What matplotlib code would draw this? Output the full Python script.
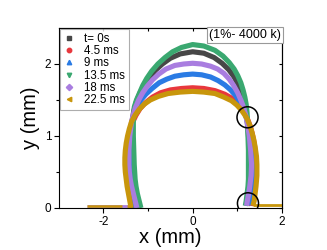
import matplotlib
matplotlib.use('Agg')
import matplotlib.pyplot as plt
from matplotlib.lines import Line2D

plt.rcParams['font.family'] = ['Liberation Sans', 'DejaVu Sans']
plt.rcParams['axes.unicode_minus'] = False

# contour points (x, y in mm)
labels = ['t= 0s', '4.5 ms', '9 ms', '13.5 ms', '18 ms', '22.5 ms']
colors = ['#474747', '#e8383d', '#2a7be4', '#3aa870', '#a97de0', '#c8960c']
markers = ['s', 'o', '^', 'v', 'D', '<']

x_t0 = [-1.20, -1.24, -1.27, -1.30, -1.32, -1.34, -1.35, -1.36, -1.37, -1.36, -1.32, -1.26, -1.18,
        -1.08, -0.97, -0.84, -0.68, -0.50, -0.28, 0.0, 0.25, 0.48, 0.66, 0.81, 0.93, 1.02, 1.09,
        1.15, 1.19, 1.22, 1.25, 1.28, 1.29, 1.28, 1.26, 1.22]
y_t0 = [0.0, 0.1, 0.2, 0.3, 0.4, 0.5, 0.6, 0.8, 1.0, 1.2, 1.35, 1.48, 1.6,
        1.71, 1.81, 1.91, 2.0, 2.08, 2.14, 2.17, 2.15, 2.09, 2.01, 1.92, 1.82, 1.71, 1.60,
        1.48, 1.36, 1.22, 1.0, 0.8, 0.6, 0.4, 0.2, 0.03]

x_45 = [-1.33, -1.37, -1.41, -1.44, -1.46, -1.48, -1.49, -1.48, -1.43, -1.39, -1.34, -1.27, -1.18,
        -1.06, -0.90, -0.72, -0.50, -0.25, 0.0, 0.25, 0.50, 0.72, 0.92, 1.02, 1.10, 1.18, 1.24,
        1.30, 1.34, 1.38, 1.40, 1.42, 1.41, 1.38, 1.35, 1.32, 1.30]
y_45 = [0.0, 0.1, 0.2, 0.3, 0.4, 0.5, 0.6, 0.8, 1.0, 1.1, 1.2, 1.29, 1.38,
        1.46, 1.54, 1.60, 1.64, 1.66, 1.67, 1.66, 1.63, 1.58, 1.51, 1.45, 1.38, 1.30, 1.22,
        1.12, 1.02, 0.9, 0.8, 0.6, 0.45, 0.3, 0.2, 0.1, 0.03]

x_9 = [-1.29, -1.31, -1.33, -1.35, -1.36, -1.37, -1.38, -1.39, -1.38, -1.35, -1.31, -1.25, -1.16,
       -1.05, -0.91, -0.75, -0.58, -0.40, -0.20, 0.0, 0.20, 0.40, 0.57, 0.72, 0.85, 0.95, 1.04,
       1.11, 1.17, 1.22, 1.28, 1.33, 1.36, 1.37, 1.36, 1.34, 1.31, 1.28, 1.26]
y_9 = [0.0, 0.1, 0.2, 0.3, 0.4, 0.5, 0.6, 0.8, 1.0, 1.2, 1.3, 1.4, 1.5,
       1.58, 1.66, 1.74, 1.79, 1.83, 1.85, 1.86, 1.85, 1.82, 1.77, 1.71, 1.64, 1.57, 1.49,
       1.41, 1.32, 1.22, 1.05, 0.88, 0.72, 0.6, 0.45, 0.32, 0.2, 0.1, 0.04]

x_135 = [-1.16, -1.20, -1.24, -1.27, -1.29, -1.30, -1.31, -1.32, -1.33, -1.33, -1.31, -1.26, -1.19,
         -1.12, -1.03, -0.92, -0.78, -0.62, -0.45, -0.25, 0.0, 0.25, 0.50, 0.68, 0.82, 0.93, 1.01,
         1.08, 1.13, 1.17, 1.20, 1.22, 1.23, 1.24, 1.25, 1.25, 1.25, 1.24, 1.22, 1.20, 1.18]
y_135 = [0.0, 0.1, 0.2, 0.3, 0.4, 0.5, 0.6, 0.8, 1.0, 1.2, 1.4, 1.5, 1.6,
         1.7, 1.8, 1.9, 2.0, 2.09, 2.17, 2.23, 2.27, 2.25, 2.19, 2.11, 2.02, 1.93, 1.84,
         1.74, 1.64, 1.54, 1.44, 1.32, 1.2, 1.0, 0.8, 0.6, 0.4, 0.3, 0.2, 0.1, 0.03]

x_18 = [-1.25, -1.29, -1.33, -1.37, -1.40, -1.42, -1.43, -1.43, -1.41, -1.37, -1.33, -1.28,
        -1.21, -1.12, -1.02, -0.90, -0.76, -0.60, -0.40, -0.20, 0.0, 0.20, 0.40, 0.56, 0.70, 0.82,
        0.92, 1.01, 1.08, 1.14, 1.19, 1.23, 1.27, 1.30, 1.32, 1.31, 1.28, 1.25, 1.22, 1.21]
y_18 = [0.0, 0.1, 0.2, 0.3, 0.4, 0.5, 0.6, 0.8, 1.0, 1.2, 1.3, 1.4,
        1.5, 1.6, 1.69, 1.78, 1.86, 1.93, 1.98, 2.0, 2.01, 2.0, 1.97, 1.93, 1.87, 1.79,
        1.70, 1.60, 1.50, 1.40, 1.29, 1.16, 1.0, 0.8, 0.6, 0.45, 0.3, 0.18, 0.08, 0.03]

x_225 = [-1.38, -1.41, -1.44, -1.47, -1.49, -1.51, -1.52, -1.52, -1.51, -1.49, -1.46, -1.42,
         -1.37, -1.29, -1.20, -1.09, -0.95, -0.77, -0.55, -0.28, 0.0, 0.25, 0.50, 0.70, 0.87, 0.99,
         1.08, 1.16, 1.22, 1.28, 1.33, 1.37, 1.40, 1.43, 1.44, 1.44, 1.42, 1.40, 1.38, 1.36, 1.35]
y_225 = [0.0, 0.1, 0.2, 0.3, 0.4, 0.5, 0.6, 0.7, 0.8, 0.9, 1.0, 1.1,
         1.2, 1.29, 1.37, 1.44, 1.50, 1.55, 1.59, 1.61, 1.62, 1.61, 1.59, 1.54, 1.49, 1.43,
         1.37, 1.30, 1.24, 1.15, 1.05, 0.95, 0.85, 0.72, 0.6, 0.45, 0.3, 0.2, 0.1, 0.05, 0.03]

xs = [x_t0, x_45, x_9, x_135, x_18, x_225]
ys = [y_t0, y_45, y_9, y_135, y_18, y_225]

# flat substrate line outside the drop
base_left_x = [-2.36, -1.36]
base_left_y = [0.025, 0.025]
base_right_x = [1.35, 2.0]
base_right_y = [0.04, 0.04]

# black open circles marking the contact points
circle_x = [1.23, 1.24]
circle_y = [1.26, 0.065]

fig = plt.figure(figsize=(3.27, 2.5), dpi=100)
ax = fig.add_axes([0.180, 0.168, 0.682, 0.720])

ax.plot(base_left_x, base_left_y, color=colors[4], lw=2.0, solid_capstyle='butt')
ax.plot(base_left_x, base_left_y, color=colors[5], lw=1.8, solid_capstyle='butt', dashes=(14, 2))
ax.plot(base_right_x, base_right_y, color=colors[5], lw=2.0, solid_capstyle='butt')

for x, y, c in zip(xs, ys, colors):
    ax.plot(x, y, '-', color=c, lw=3.7, solid_capstyle='butt', solid_joinstyle='round')

ax.scatter(circle_x, circle_y, s=230, facecolors='none', edgecolors='black', linewidths=1.1, zorder=5)

ax.set_xlim(-3, 2)
ax.set_ylim(0, 2.5)
ax.set_xticks([-2, 0, 2])
ax.set_xticks([-1, 1], minor=True)
ax.set_yticks([0, 1, 2])
ax.set_yticks([0.5, 1.5], minor=True)
ax.tick_params(axis='both', which='both', labelsize=8.5, width=0.8, pad=2)
ax.tick_params(which='major', length=3.5)
ax.tick_params(which='minor', length=2)
for s in ax.spines.values():
    s.set_linewidth(0.8)

# mirrored ticks inside on top / right
ax2 = ax.secondary_xaxis('top')
ax2.set_xticks([-2, -1, 0, 1, 2])
ax2.tick_params(direction='in', length=2.5, width=0.8, labeltop=False)
ax3 = ax.secondary_yaxis('right')
ax3.set_yticks([0, 0.5, 1, 1.5, 2])
ax3.tick_params(direction='in', length=2.5, width=0.8, labelright=False)

ax.set_xlabel('x (mm)', fontsize=14.5, labelpad=0)
ax.set_ylabel('y (mm)', fontsize=14.5, labelpad=3)

handles = [Line2D([], [], ls='none', marker=m, color=c, markersize=3.2)
           for m, c in zip(markers, colors)]
leg = ax.legend(handles, labels, loc='upper left', fontsize=8.3, frameon=True, fancybox=False,
                edgecolor='0.6', handlelength=1.0, handletextpad=0.8, labelspacing=0.03,
                borderpad=0.3, borderaxespad=0.1)
leg.get_frame().set_linewidth(0.8)

ax.text(0.995, 0.994, '(1%- 4000 k)', transform=ax.transAxes, ha='right', va='top', fontsize=9,
        bbox=dict(boxstyle='square,pad=0.15', fc='white', ec='0.6', lw=0.8), zorder=6)

fig.savefig('out.png', dpi=100)
